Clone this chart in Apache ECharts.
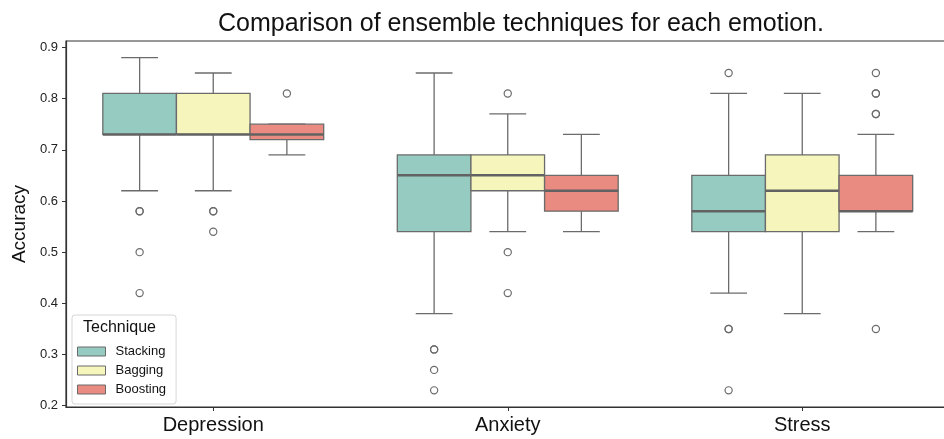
<!DOCTYPE html>
<html>
<head>
<meta charset="utf-8">
<script src="https://cdn.jsdelivr.net/npm/echarts@6/dist/echarts.min.js"></script>
<style>
  html, body { margin: 0; padding: 0; background: #fff; }
  #chart { width: 944px; height: 439px; }
</style>
</head>
<body>
<div id="chart"></div>
<script>
// Categories and groups
const emotions = ['Depression', 'Anxiety', 'Stress'];
const techniques = ['Stacking', 'Bagging', 'Boosting'];

// Five-number summaries per emotion: [lower whisker, Q1, median, Q3, upper whisker]
const stackingBoxes = [
  [0.62, 0.73, 0.73, 0.81, 0.88],
  [0.38, 0.54, 0.65, 0.69, 0.85],
  [0.42, 0.54, 0.58, 0.65, 0.81]
];
const baggingBoxes = [
  [0.62, 0.73, 0.73, 0.81, 0.85],
  [0.54, 0.62, 0.65, 0.69, 0.77],
  [0.38, 0.54, 0.62, 0.69, 0.81]
];
const boostingBoxes = [
  [0.69, 0.72, 0.73, 0.75, 0.75],
  [0.54, 0.58, 0.62, 0.65, 0.73],
  [0.54, 0.58, 0.58, 0.65, 0.73]
];

// Points beyond the whiskers, per emotion (repeated values are drawn twice)
const stackingOutliers = [
  [0.58, 0.58, 0.50, 0.42],
  [0.31, 0.31, 0.27, 0.23],
  [0.85, 0.35, 0.35, 0.23]
];
const baggingOutliers = [
  [0.58, 0.58, 0.54],
  [0.81, 0.50, 0.42],
  []
];
const boostingOutliers = [
  [0.81],
  [],
  [0.85, 0.81, 0.81, 0.77, 0.77, 0.35]
];

// Y axis tick labels
const yTicks = [0.2, 0.3, 0.4, 0.5, 0.6, 0.7, 0.8, 0.9];

const fills = ['#95cbc1', '#f6f6bc', '#e98b80'];
const LINE = '#6b6b6b';
const MEDIAN = '#626262';
const BOX_FRACTION = 0.25;
const FONT = '"Liberation Sans", Arial, Helvetica, sans-serif';

function boxData(boxes) {
  return boxes.map((b, i) => [i].concat(b));
}
function outlierData(groups) {
  const out = [];
  groups.forEach((vals, i) => vals.forEach(v => out.push([i, v])));
  return out;
}

function seg(x1, y1, x2, y2, lw, color) {
  return { type: 'line', shape: { x1, y1, x2, y2 },
           style: { stroke: color || LINE, lineWidth: lw || 1.3 } };
}

function boxRenderer(hue) {
  return function (params, api) {
    const cat = api.value(0);
    const band = api.size([1, 0])[0];
    const w = band * BOX_FRACTION;
    const cx = api.coord([cat, 0])[0] + (hue - 1) * w;
    const y = i => api.coord([cat, api.value(i)])[1];
    const low = y(1), q1 = y(2), med = y(3), q3 = y(4), high = y(5);
    const half = w / 2, cap = w / 4;
    return {
      type: 'group',
      children: [
        seg(cx, q3, cx, high), seg(cx - cap, high, cx + cap, high),
        seg(cx, q1, cx, low), seg(cx - cap, low, cx + cap, low),
        { type: 'rect', shape: { x: cx - half, y: q3, width: w, height: q1 - q3 },
          style: { fill: fills[hue], stroke: LINE, lineWidth: 1.3 } },
        seg(cx - half, med, cx + half, med, 2.5, MEDIAN)
      ]
    };
  };
}

function outlierRenderer(hue) {
  return function (params, api) {
    const cat = api.value(0);
    const band = api.size([1, 0])[0];
    const w = band * BOX_FRACTION;
    const p = api.coord([cat, api.value(1)]);
    return { type: 'circle', shape: { cx: p[0] + (hue - 1) * w, cy: p[1], r: 3.6 },
             style: { fill: 'rgba(255,255,255,0)', stroke: LINE, lineWidth: 1.2 } };
  };
}

const allBoxes = [stackingBoxes, baggingBoxes, boostingBoxes];
const allOutliers = [stackingOutliers, baggingOutliers, boostingOutliers];

const series = [];
techniques.forEach((name, h) => {
  series.push({
    name: name, type: 'custom', renderItem: boxRenderer(h),
    itemStyle: { color: fills[h] },
    encode: { x: 0, y: [1, 2, 3, 4, 5] },
    data: boxData(allBoxes[h]), z: 2
  });
});
techniques.forEach((name, h) => {
  series.push({
    name: name + ' outliers', type: 'custom', renderItem: outlierRenderer(h),
    encode: { x: 0, y: 1 },
    data: outlierData(allOutliers[h]), z: 3
  });
});

const chart = echarts.init(document.getElementById('chart'), null, { renderer: 'canvas' });
chart.setOption({
  animation: false,
  backgroundColor: '#fff',
  title: {
    text: 'Comparison of ensemble techniques for each emotion.',
    left: 516, top: 7, textAlign: 'center',
    textStyle: { fontFamily: FONT, fontSize: 25, fontWeight: 'normal', color: '#111' }
  },
  grid: { left: 66, top: 41, width: 883.5, height: 366, show: true, outerBoundsMode: 'none',
          borderColor: '#333', borderWidth: 1.2, backgroundColor: 'transparent' },
  xAxis: {
    type: 'category', data: emotions,
    axisLine: { show: true, lineStyle: { color: '#333', width: 1.2 } },
    axisTick: { show: true, alignWithLabel: true, length: 4, lineStyle: { color: '#333' } },
    axisLabel: { fontFamily: FONT, fontSize: 20, color: '#111', margin: 8 },
    splitLine: { show: false }
  },
  yAxis: {
    type: 'value', min: 0.1975, max: 0.9125,
    name: 'Accuracy', nameLocation: 'middle', nameGap: 36, nameRotate: 90,
    nameTextStyle: { fontFamily: FONT, fontSize: 19, color: '#111' },
    axisLine: { show: true, lineStyle: { color: '#333', width: 1.2 } },
    axisTick: { show: true, length: 4, lineStyle: { color: '#333' }, customValues: yTicks },
    axisLabel: { fontFamily: FONT, fontSize: 13, color: '#222', margin: 8,
                 customValues: yTicks, formatter: v => v.toFixed(1) },
    splitLine: { show: false }
  },
  legend: {
    data: techniques, orient: 'vertical', left: 72, top: 315,
    padding: [30, 10, 8, 5], itemGap: 6, itemWidth: 28, itemHeight: 9,
    icon: 'rect',
    itemStyle: { borderColor: LINE, borderWidth: 1 },
    textStyle: { fontFamily: FONT, fontSize: 13, color: '#111', padding: [0, 0, 0, 5] },
    backgroundColor: 'rgba(255,255,255,0.85)', borderColor: '#d6d6d6', borderWidth: 1, borderRadius: 3
  },
  graphic: [{
    type: 'text', left: 83, top: 320, z: 100,
    style: { text: 'Technique', fontFamily: FONT, fontSize: 16, fill: '#111' }
  }],
  series: series
});
</script>
</body>
</html>
